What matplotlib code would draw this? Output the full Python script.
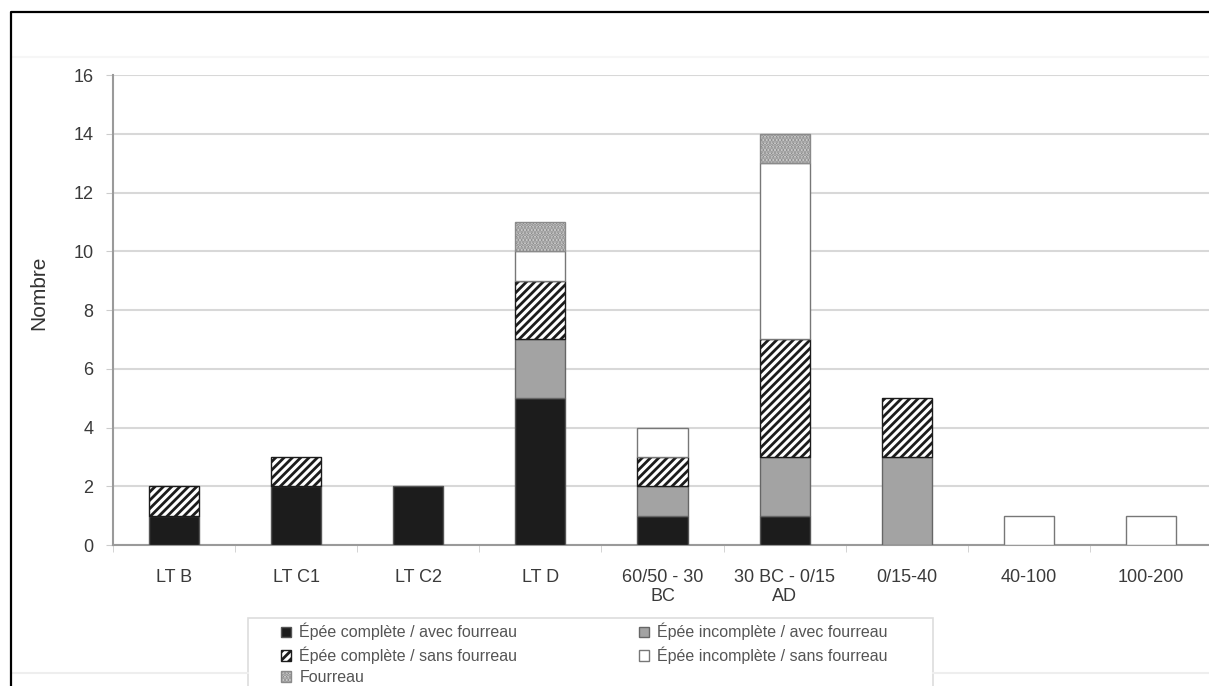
import numpy as np
import matplotlib.pyplot as plt
from matplotlib.lines import Line2D
from matplotlib.patches import Rectangle

plt.rcParams['font.family'] = ['Liberation Sans', 'DejaVu Sans']
plt.rcParams['hatch.linewidth'] = 2.0

# Data
categories = ['LT B', 'LT C1', 'LT C2', 'LT D', '60/50 - 30\nBC', '30 BC - 0/15\nAD',
              '0/15-40', '40-100', '100-200']
complete_avec = [1, 2, 2, 5, 1, 1, 0, 0, 0]
incomplete_avec = [0, 0, 0, 2, 1, 2, 3, 0, 0]
complete_sans = [1, 1, 0, 2, 1, 4, 2, 0, 0]
incomplete_sans = [0, 0, 0, 1, 1, 6, 0, 1, 1]
fourreau = [0, 0, 0, 1, 0, 1, 0, 0, 0]

labels = ['Épée complète / avec fourreau', 'Épée incomplète / avec fourreau',
          'Épée complète / sans fourreau', 'Épée incomplète / sans fourreau',
          'Fourreau']

W, H = 1209, 686
fig = plt.figure(figsize=(W / 100, H / 100), dpi=100)
ax = fig.add_axes([0.0935, 0.2055, 0.909, 0.685])

# faint background frame lines
fig.add_artist(Line2D([12 / W, 1.0], [1 - 57 / H] * 2, color='#f6f6f6', linewidth=1.5))
fig.add_artist(Line2D([12 / W, 248 / W], [1 - 673 / H] * 2, color='#eeeeee', linewidth=1.5))
fig.add_artist(Line2D([933 / W, 1.0], [1 - 673 / H] * 2, color='#eeeeee', linewidth=1.5))

x = np.arange(len(categories))
w = 0.41
bottom = np.zeros(len(categories))

series = [complete_avec, incomplete_avec, complete_sans, incomplete_sans, fourreau]
styles = [
    dict(color='#1c1c1c', edgecolor='#555555'),
    dict(color='#a3a3a3', edgecolor='#666666'),
    dict(color='white', edgecolor='#1c1c1c', hatch='////'),
    dict(color='white', edgecolor='#777777'),
    dict(color='#d6d6d6', edgecolor='#8a8a8a', hatch='.....'),
]

handles = []
for vals, st, lab in zip(series, styles, labels):
    vals = np.array(vals, dtype=float)
    mask = vals > 0
    b = ax.bar(x[mask], vals[mask], w, bottom=bottom[mask], label=lab,
               linewidth=1.0, zorder=3, **st)
    handles.append(b)
    bottom += vals

ax.set_ylim(0, 16)
ax.set_xlim(-0.5, len(categories) - 0.5)
ax.set_yticks(range(0, 17, 2))
ax.yaxis.grid(True, color='#d8d8d8', linewidth=1.5, zorder=0)
ax.set_axisbelow(True)

ax.set_xticks(x)
ax.set_xticklabels(categories, fontsize=13, color='#3a3a3a', linespacing=1.2)
ax.set_xticks(np.arange(-0.5, len(categories), 1), minor=True)
ax.tick_params(axis='x', which='major', length=0, pad=17)
ax.tick_params(axis='x', which='minor', length=5, color='#cccccc')
ax.tick_params(axis='y', labelsize=13, labelcolor='#3a3a3a', length=5,
               color='#cccccc', pad=9)

for s in ['top', 'right']:
    ax.spines[s].set_visible(False)
for s in ['left', 'bottom']:
    ax.spines[s].set_color('#9a9a9a')
    ax.spines[s].set_linewidth(1.5)

ax.set_ylabel('Nombre', fontsize=15, color='#333333')
ax.yaxis.set_label_coords(-0.059, 0.536)

# legend box
fig.add_artist(Rectangle((248 / W, -0.05), (933 - 248) / W, 1.05 - 618 / H,
                         transform=fig.transFigure, facecolor='white',
                         edgecolor='#dddddd', linewidth=1.2, zorder=1))

order = [handles[0], handles[2], handles[4], handles[1], handles[3]]
leg = fig.legend(order, [h.get_label() for h in order],
                 loc='upper left', bbox_to_anchor=(281 / W, 1 - 623 / H),
                 borderaxespad=0, borderpad=0,
                 ncol=2, fontsize=11.5, frameon=False,
                 handlelength=0.65, handleheight=0.65, handletextpad=0.5,
                 columnspacing=7.6, labelspacing=0.38,
                 labelcolor='#555555')
leg.set_zorder(2)

# outer frame
fig.add_artist(Line2D([11 / W, 11 / W, 1.0], [0.0, 1 - 12 / H, 1 - 12 / H],
                      color='black', linewidth=1.6))

fig.savefig('out.png', dpi=100)
